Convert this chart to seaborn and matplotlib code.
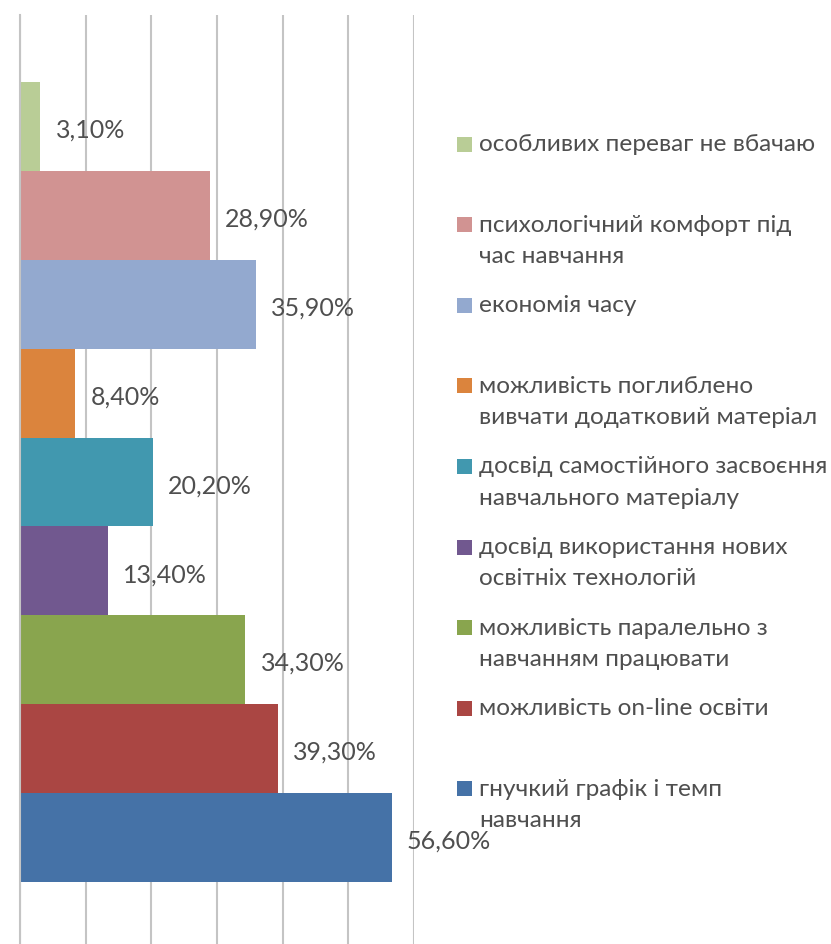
import matplotlib
matplotlib.use("Agg")
import matplotlib.pyplot as plt
import seaborn as sns
import pandas as pd
from matplotlib.patches import Rectangle

# ---- data ----
categories = [
    "особливих переваг не вбачаю",
    "психологічний комфорт під\nчас навчання",
    "економія часу",
    "можливість поглиблено\nвивчати додатковий матеріал",
    "досвід самостійного засвоєння\nнавчального матеріалу",
    "досвід використання нових\nосвітніх технологій",
    "можливість паралельно з\nнавчанням працювати",
    "можливість on-line освіти",
    "гнучкий графік і темп\nнавчання",
]
values = [3.1, 28.9, 35.9, 8.4, 20.2, 13.4, 34.3, 39.3, 56.6]
colors = ["#B9CD96", "#D19392", "#93A9CF", "#DB843D", "#4198AF",
          "#71588F", "#89A54E", "#AA4643", "#4572A7"]
value_labels = [f"{v:.2f}".replace(".", ",") + "%" for v in values]

# ---- style ----
sns.set_style("white")
plt.rcParams["font.family"] = ["Lato", "DejaVu Sans"]
TEXT = "#4f4f4f"
GRID = "#c4c4c4"

W, H = 831, 945
fig = plt.figure(figsize=(W / 100, H / 100), dpi=100)
ax = fig.add_axes([20 / W, 1 - 950 / H, 394 / W, (950 - 16) / H])

df = pd.DataFrame({"cat": categories, "val": values})
sns.barplot(data=df, y="cat", x="val", hue="cat", order=categories,
            hue_order=categories, palette=colors, width=1.0, orient="h",
            saturation=1, legend=False, linewidth=0, ax=ax)

ax.set_xlim(0, 60)
ax.set_ylim(9.254, -1.254)
ax.set_xticks(range(0, 61, 10))
ax.set_xticklabels([])
ax.tick_params(axis="x", length=0)
ax.set_yticks([-1.254, 9.254])
ax.set_yticklabels([])
ax.tick_params(axis="y", direction="out", length=6, width=1.5, color=GRID)
ax.grid(axis="x", color=GRID, linewidth=1.5)
ax.set_axisbelow(True)
ax.set_xlabel("")
ax.set_ylabel("")
for s in ["top", "right", "bottom"]:
    ax.spines[s].set_visible(False)
ax.spines["left"].set_color(GRID)
ax.spines["left"].set_linewidth(1.5)

# value labels
for i, (v, lab) in enumerate(zip(values, value_labels)):
    ax.annotate(lab, xy=(v, i), xytext=(11, -2), textcoords="offset points",
                ha="left", va="center", fontsize=18, color=TEXT)

# legend (drawn manually, marker aligned with first text line)
first_y = 145
step = 80.6
line_h = 31.5
for i, (lab, c) in enumerate(zip(categories, colors)):
    y = first_y + i * step
    fig.patches.append(Rectangle((457 / W, 1 - (y + 7.5) / H), 15 / W, 15 / H,
                                 transform=fig.transFigure, facecolor=c,
                                 edgecolor="none"))
    for j, line in enumerate(lab.split("\n")):
        fig.text(479 / W, 1 - (y + 6 + j * line_h) / H, line, ha="left",
                 va="baseline", fontsize=17.6, color=TEXT)

fig.savefig("out.png", dpi=100)
